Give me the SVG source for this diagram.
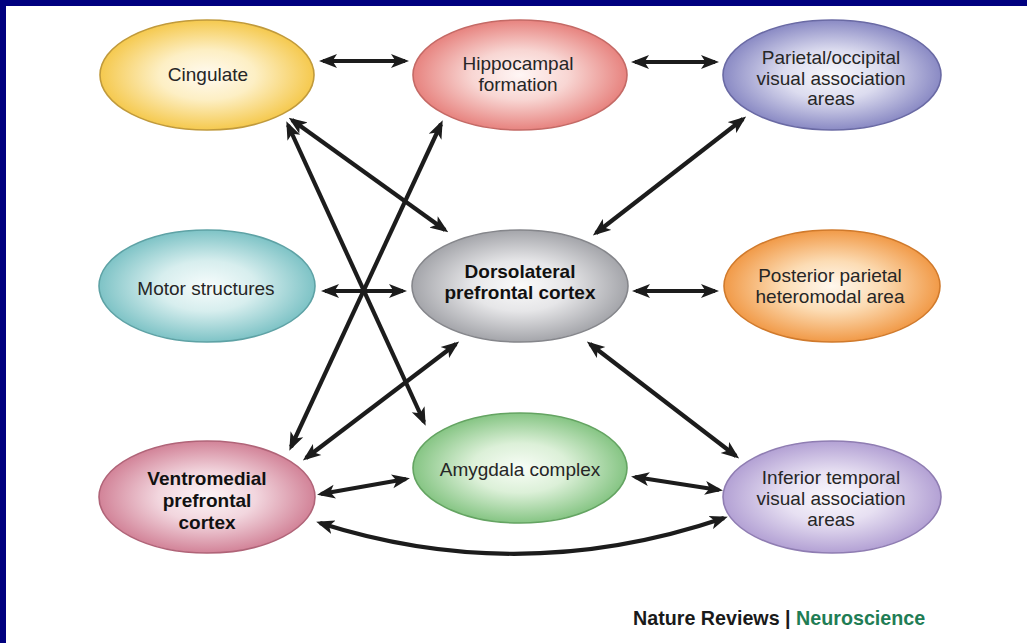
<svg xmlns="http://www.w3.org/2000/svg" width="1027" height="643" viewBox="0 0 1027 643">
<style>
.lbl{font-family:"Liberation Sans",Arial,sans-serif;font-size:19px;fill:#262626;text-anchor:middle}
.b{font-weight:bold;fill:#111}
.node ellipse{stroke-width:1.6}
.conn path{fill:none;stroke:#1c1c1c;stroke-width:4.2;marker-start:url(#ah);marker-end:url(#ah)}
.foot{font-family:"Liberation Sans",Arial,sans-serif;font-size:19.7px;font-weight:bold;fill:#1a1a1a}
</style>
<defs>
<marker id="ah" markerUnits="userSpaceOnUse" markerWidth="18" markerHeight="15" viewBox="0 0 18 15" refX="14" refY="7.5" orient="auto-start-reverse">
<path d="M0,0.5 L18,7.5 L0,14.5 L4.5,7.5 z" fill="#1c1c1c"/>
</marker>
<radialGradient id="gY"><stop offset="0" stop-color="#fffaf0"/><stop offset="0.45" stop-color="#fdefc4"/><stop offset="1" stop-color="#f5c94e"/></radialGradient>
<radialGradient id="gR"><stop offset="0" stop-color="#fff6f5"/><stop offset="0.45" stop-color="#f8d6d3"/><stop offset="1" stop-color="#e7837f"/></radialGradient>
<radialGradient id="gB"><stop offset="0" stop-color="#f8f8fc"/><stop offset="0.45" stop-color="#dcdcef"/><stop offset="1" stop-color="#8a8ac4"/></radialGradient>
<radialGradient id="gT"><stop offset="0" stop-color="#f6fcfc"/><stop offset="0.45" stop-color="#d7eeee"/><stop offset="1" stop-color="#7ec3c6"/></radialGradient>
<radialGradient id="gG"><stop offset="0" stop-color="#fafafa"/><stop offset="0.45" stop-color="#e6e6e8"/><stop offset="1" stop-color="#a4a5aa"/></radialGradient>
<radialGradient id="gO"><stop offset="0" stop-color="#fff8ee"/><stop offset="0.45" stop-color="#fcdcb4"/><stop offset="1" stop-color="#f19a48"/></radialGradient>
<radialGradient id="gP"><stop offset="0" stop-color="#fcf4f6"/><stop offset="0.45" stop-color="#f2d6de"/><stop offset="1" stop-color="#d28398"/></radialGradient>
<radialGradient id="gN"><stop offset="0" stop-color="#f8fdf6"/><stop offset="0.45" stop-color="#dcf0d8"/><stop offset="1" stop-color="#86c584"/></radialGradient>
<radialGradient id="gL"><stop offset="0" stop-color="#fbf9fd"/><stop offset="0.45" stop-color="#e7e0f2"/><stop offset="1" stop-color="#b3a1d4"/></radialGradient>
</defs>
<rect x="0" y="0" width="1027" height="643" fill="#00007f"/>
<rect x="6" y="6" width="1021" height="637" fill="#ffffff"/>

<g id="cingulate" class="node">
<ellipse cx="207" cy="75" rx="107" ry="55" fill="url(#gY)" stroke="#c09a3c"/>
<text class="lbl" x="208" y="81">Cingulate</text>
</g>
<g id="hippocampal" class="node">
<ellipse cx="520" cy="75" rx="107" ry="55" fill="url(#gR)" stroke="#c46a66"/>
<text class="lbl" x="518" y="70">Hippocampal</text>
<text class="lbl" x="518" y="91">formation</text>
</g>
<g id="parietal-occipital" class="node">
<ellipse cx="832" cy="75" rx="109" ry="55" fill="url(#gB)" stroke="#6a6aa4"/>
<text class="lbl" x="831" y="64">Parietal/occipital</text>
<text class="lbl" x="831" y="85">visual association</text>
<text class="lbl" x="831" y="105">areas</text>
</g>
<g id="motor" class="node">
<ellipse cx="207" cy="286" rx="108" ry="56" fill="url(#gT)" stroke="#5ea2a5"/>
<text class="lbl" x="206" y="295">Motor structures</text>
</g>
<g id="dorsolateral" class="node">
<ellipse cx="520" cy="286" rx="108" ry="56" fill="url(#gG)" stroke="#85868b"/>
<text class="lbl b" x="520" y="278">Dorsolateral</text>
<text class="lbl b" x="520" y="299">prefrontal cortex</text>
</g>
<g id="posterior-parietal" class="node">
<ellipse cx="832" cy="286" rx="108" ry="56" fill="url(#gO)" stroke="#d07a2c"/>
<text class="lbl" x="830" y="282">Posterior parietal</text>
<text class="lbl" x="830" y="303">heteromodal area</text>
</g>
<g id="ventromedial" class="node">
<ellipse cx="207" cy="497" rx="108" ry="56" fill="url(#gP)" stroke="#b06478"/>
<text class="lbl b" x="207" y="485">Ventromedial</text>
<text class="lbl b" x="207" y="507">prefrontal</text>
<text class="lbl b" x="207" y="529">cortex</text>
</g>
<g id="amygdala" class="node">
<ellipse cx="520" cy="468" rx="107" ry="55" fill="url(#gN)" stroke="#64a462"/>
<text class="lbl" x="520" y="476">Amygdala complex</text>
</g>
<g id="inferior-temporal" class="node">
<ellipse cx="832" cy="497" rx="109" ry="56" fill="url(#gL)" stroke="#8f7db2"/>
<text class="lbl" x="831" y="484">Inferior temporal</text>
<text class="lbl" x="831" y="505">visual association</text>
<text class="lbl" x="831" y="526">areas</text>
</g>

<g id="connectors" class="conn">
<path d="M323,61 L405,61"/>
<path d="M635,62 L715,62"/>
<path d="M292,120 L445,230"/>
<path d="M288,125 L424,422"/>
<path d="M441,124 L291,447"/>
<path d="M743,119 L596,233"/>
<path d="M325,291 L403,291"/>
<path d="M636,291 L715,291"/>
<path d="M456,344 L306,458"/>
<path d="M590,344 L736,456"/>
<path d="M321,494 L406,479"/>
<path d="M635,477 L719,490"/>
<path d="M320,523 Q521,587 724,518"/>
</g>

<text class="foot" x="633" y="625">Nature Reviews | <tspan fill="#1f7d55">Neuroscience</tspan></text>
</svg>
